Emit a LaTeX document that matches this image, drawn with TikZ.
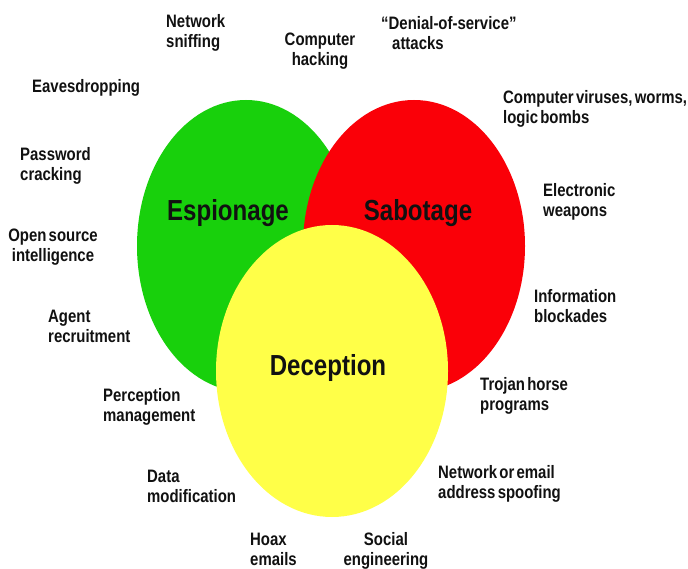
\documentclass[tikz,border=0pt]{standalone}
\usepackage{fontspec}
\setmainfont[FakeStretch=0.83,WordSpace=0.55]{Liberation Sans}
\usetikzlibrary{shapes.geometric}
\definecolor{espgreen}{RGB}{24,208,12}
\definecolor{sabred}{RGB}{250,0,8}
\definecolor{decyellow}{RGB}{255,255,72}
\definecolor{txt}{RGB}{17,17,17}
\tikzset{
  blob/.style={ellipse, inner sep=0pt, draw=none},
  lbl/.style={font=\fontsize{18}{20}\selectfont\bfseries, text=txt, inner sep=0pt, align=left, anchor=west},
  lblc/.style={lbl, align=center, anchor=center},
  big/.style={font=\fontsize{29}{32}\selectfont\bfseries, text=txt, inner sep=0pt}
}
\begin{document}
\begin{tikzpicture}[x=1pt,y=-1pt]
\fill[white] (0,0) rectangle (688,569);
\useasboundingbox (0,0) rectangle (688,569);
\node[blob, fill=espgreen, minimum width=218pt, minimum height=292pt] (esp) at (246,246) {};
\node[blob, fill=sabred, minimum width=222pt, minimum height=292pt] (sab) at (414,246) {};
\node[blob, fill=decyellow, minimum width=232pt, minimum height=292pt] (dec) at (332,371) {};
\node[big] (tesp) at (228,213) {Espionage};
\node[big] (tsab) at (418,213) {Sabotage};
\node[big] (tdec) at (328,368) {Deception};
\node[lbl] (l1) at (166,33) {Network\\sniffing};
\node[lblc] (l2) at (320,51) {Computer\\hacking};
\node[lbl] (l3) at (381,33) {“Denial-of-service”\\\hspace*{11pt}attacks};
\node[lbl] (l4) at (32,88) {Eavesdropping};
\node[lbl] (l5) at (503,109) {Computer viruses, worms,\\logic bombs};
\node[lbl] (l6) at (20,166) {Password\\cracking};
\node[lbl] (l7) at (543,202) {Electronic\\weapons};
\node[lblc] (l8) at (53,247) {Open source\\intelligence};
\node[lbl] (l9) at (48,326) {Agent\\recruitment};
\node[lbl] (l10) at (534,306) {Information\\blockades};
\node[lbl] (l11) at (103,407) {Perception\\management};
\node[lbl] (l12) at (480,396) {Trojan horse\\programs};
\node[lbl] (l13) at (147,486) {Data\\modification};
\node[lbl] (l14) at (438,484) {Network or email\\address spoofing};
\node[lbl] (l15) at (250,549) {Hoax\\emails};
\node[lblc] (l16) at (386,551) {Social\\engineering};
\end{tikzpicture}
\end{document}
